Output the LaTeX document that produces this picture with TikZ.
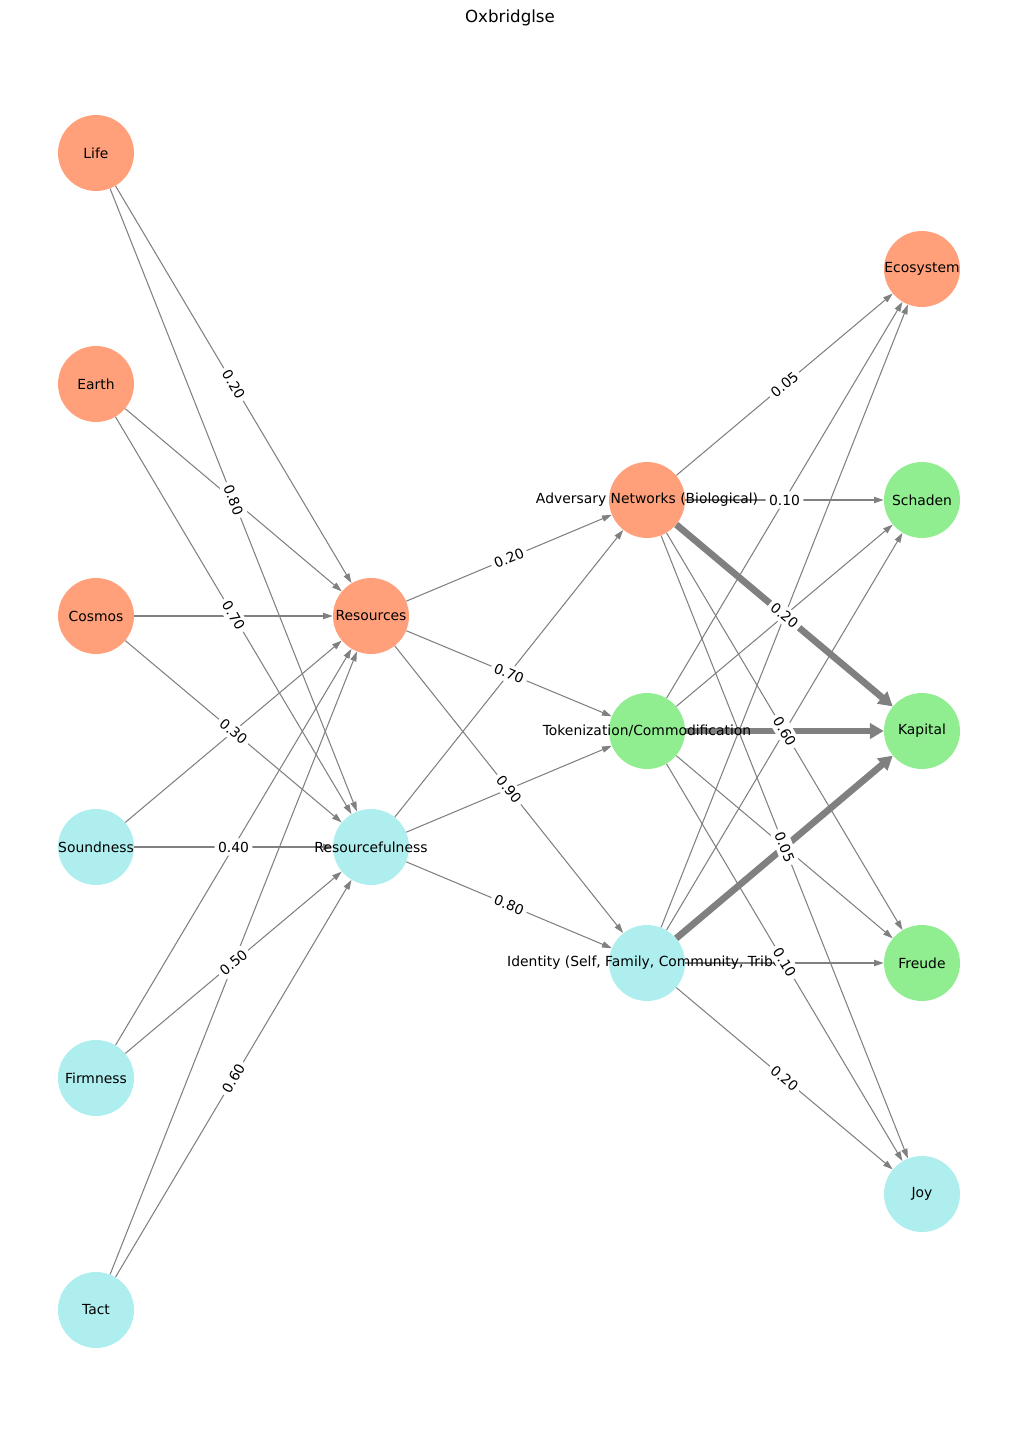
\documentclass[tikz,border=0pt]{standalone}
\usepackage{fontspec}
\setmainfont{DejaVu Sans}
\usetikzlibrary{arrows.meta}
\definecolor{salm}{HTML}{FFA07A}
\definecolor{lgreen}{HTML}{90EE90}
\definecolor{pturq}{HTML}{AFEEEE}
\definecolor{egray}{HTML}{808080}
\begin{document}
\begin{tikzpicture}[x=0.72pt,y=-0.72pt,
  nd/.style={circle, minimum size=54.7pt, inner sep=0pt, draw=none},
  txt/.style={font=\fontsize{10}{12}\selectfont, inner sep=0pt},
  sal/.style={nd, fill=salm},
  grn/.style={nd, fill=lgreen},
  tq/.style={nd, fill=pturq},
  ed/.style={draw=egray, line width=0.75pt, -{Triangle[length=7pt,width=4.5pt]}},
  thk/.style={draw=egray, line width=4.8pt, -{Triangle[length=10pt,width=11pt]}},
  lab/.style={midway, sloped, fill=white, inner sep=2.5pt, rounded corners=3pt, font=\fontsize{10}{12}\selectfont}]
\useasboundingbox (0,0) rectangle (1019,1442);
\fill[white] (0,0) rectangle (1019,1442);
\node[txt, font=\fontsize{12}{14}\selectfont] (title) at (510,18) {Oxbridglse};
% nodes
\node[sal] (life) at (96,153) {};
\node[sal] (earth) at (96,384) {};
\node[sal] (cosmos) at (96,616) {};
\node[tq] (sound) at (96,847) {};
\node[tq] (firm) at (96,1078) {};
\node[tq] (tact) at (96,1310) {};
\node[sal] (res) at (371,616) {};
\node[tq] (rf) at (371,847) {};
\node[sal] (adv) at (647,500) {};
\node[grn] (tok) at (647,731) {};
\node[tq] (iden) at (647,963) {};
\node[sal] (eco) at (922,269) {};
\node[grn] (sch) at (922,500) {};
\node[grn] (kap) at (922,731) {};
\node[grn] (fre) at (922,963) {};
\node[tq] (joy) at (922,1194) {};
% edges layer 1
\foreach \s in {life,earth,cosmos,sound,firm,tact}{
  \draw[ed] (\s) -- (res);
  \draw[ed] (\s) -- (rf);
}
% edges layer 2
\foreach \s in {res,rf}{
  \draw[ed] (\s) -- (adv);
  \draw[ed] (\s) -- (tok);
  \draw[ed] (\s) -- (iden);
}
% edges layer 3
\foreach \s in {adv,tok,iden}{
  \draw[ed] (\s) -- (eco);
  \draw[ed] (\s) -- (sch);
  \draw[ed] (\s) -- (fre);
  \draw[ed] (\s) -- (joy);
  \draw[thk] (\s) -- (kap);
}
% node texts
\node[txt] (lifeT) at (life) {Life};
\node[txt] (earthT) at (earth) {Earth};
\node[txt] (cosmosT) at (cosmos) {Cosmos};
\node[txt] (soundT) at (sound) {Soundness};
\node[txt] (firmT) at (firm) {Firmness};
\node[txt] (tactT) at (tact) {Tact};
\node[txt] (resT) at (res) {Resources};
\node[txt] (rfT) at (rf) {Resourcefulness};
\node[txt] (advT) at (adv) {Adversary Networks (Biological)};
\node[txt] (tokT) at (tok) {Tokenization/Commodification};
\node[txt] (idenT) at (iden) {Identity (Self, Family, Community, Tribe)};
\node[txt] (ecoT) at (eco) {Ecosystem};
\node[txt] (schT) at (sch) {Schaden};
\node[txt] (kapT) at (kap) {Kapital};
\node[txt] (freT) at (fre) {Freude};
\node[txt] (joyT) at (joy) {Joy};
% edge labels
\path (life) -- (res) node[lab] {0.20};
\path (life) -- (rf) node[lab] {0.80};
\path (earth) -- (rf) node[lab] {0.70};
\path (cosmos) -- (rf) node[lab] {0.30};
\path (sound) -- (rf) node[lab] {0.40};
\path (firm) -- (rf) node[lab] {0.50};
\path (tact) -- (rf) node[lab] {0.60};
\path (res) -- (adv) node[lab] {0.20};
\path (res) -- (tok) node[lab] {0.70};
\path (res) -- (iden) node[lab] {0.90};
\path (rf) -- (iden) node[lab] {0.80};
\path (adv) -- (eco) node[lab] {0.05};
\path (adv) -- (sch) node[lab] {0.10};
\path (adv) -- (kap) node[lab] {0.20};
\path (adv) -- (fre) node[lab] {0.60};
\path (adv) -- (joy) node[lab] {0.05};
\path (tok) -- (joy) node[lab] {0.10};
\path (iden) -- (joy) node[lab] {0.20};
\end{tikzpicture}
\end{document}
